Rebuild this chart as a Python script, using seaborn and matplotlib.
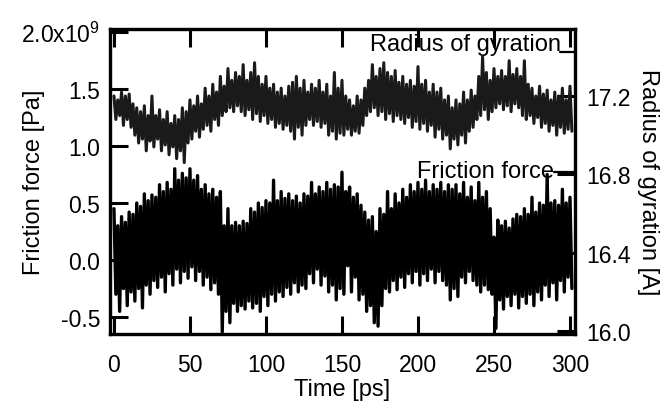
import numpy as np
import pandas as pd
import matplotlib
matplotlib.use("Agg")
import matplotlib.pyplot as plt
import seaborn as sns

# ---- data (envelope peaks/troughs every 2.5 ps) ----
time_ps = np.arange(0, 300.1, 2.5)

friction_hi = [0.45, 0.30, 0.38, 0.33, 0.42, 0.40, 0.50, 0.47, 0.58, 0.52,
               0.57, 0.55, 0.66, 0.60, 0.68, 0.62, 0.80, 0.70, 0.76, 0.72,
               0.80, 0.70, 0.74, 0.62, 0.66, 0.58, 0.62, 0.55, 0.60, 0.30,
               0.45, 0.30, 0.33, 0.30, 0.34, 0.32, 0.45, 0.42, 0.50, 0.46,
               0.52, 0.50, 0.70, 0.52, 0.60, 0.54, 0.58, 0.52, 0.56, 0.50,
               0.58, 0.56, 0.68, 0.58, 0.64, 0.60, 0.68, 0.62, 0.66, 0.64,
               0.77, 0.60, 0.64, 0.55, 0.58, 0.48, 0.42, 0.35, 0.38, 0.25,
               0.45, 0.40, 0.60, 0.45, 0.58, 0.50, 0.62, 0.55, 0.66, 0.60,
               0.68, 0.62, 0.70, 0.60, 0.66, 0.62, 0.68, 0.60, 0.66, 0.62,
               0.66, 0.58, 0.68, 0.55, 0.64, 0.52, 0.68, 0.55, 0.60, 0.45,
               0.20, 0.35, 0.30, 0.34, 0.28, 0.36, 0.40, 0.38, 0.45, 0.40,
               0.55, 0.42, 0.50, 0.48, 0.75, 0.50, 0.52, 0.48, 0.62, 0.50,
               0.55]
friction_lo = [-0.30, -0.45, -0.25, -0.40, -0.28, -0.36, -0.25, -0.42, -0.22, -0.30,
               -0.18, -0.24, -0.15, -0.28, -0.12, -0.22, -0.08, -0.20, -0.10, -0.16,
               -0.06, -0.18, -0.10, -0.22, -0.15, -0.26, -0.20, -0.30, -0.63, -0.45,
               -0.55, -0.38, -0.45, -0.40, -0.43, -0.36, -0.42, -0.38, -0.45, -0.32,
               -0.40, -0.30, -0.36, -0.28, -0.32, -0.24, -0.30, -0.20, -0.28, -0.22,
               -0.25, -0.12, -0.20, -0.08, -0.22, -0.14, -0.28, -0.22, -0.35, -0.25,
               -0.30, -0.05, -0.28, -0.15, -0.35, -0.30, -0.45, -0.40, -0.55, -0.58,
               -0.40, -0.25, -0.28, -0.18, -0.26, -0.15, -0.24, -0.12, -0.20, -0.10,
               -0.22, -0.12, -0.18, -0.08, -0.20, -0.10, -0.18, -0.22, -0.35, -0.25,
               -0.32, -0.15, -0.20, -0.10, -0.18, -0.22, -0.28, -0.22, -0.26, -0.30,
               -0.60, -0.35, -0.43, -0.32, -0.40, -0.30, -0.42, -0.32, -0.38, -0.30,
               -0.40, -0.28, -0.35, -0.22, -0.32, -0.20, -0.35, -0.18, -0.28, -0.15,
               -0.25]

rg_hi = [17.20, 17.18, 17.22, 17.20, 17.21, 17.16, 17.14, 17.12, 17.15, 17.10,
         17.20, 17.10, 17.13, 17.08, 17.12, 17.06, 17.10, 17.08, 17.14, 17.12,
         17.18, 17.15, 17.20, 17.16, 17.24, 17.20, 17.26, 17.22, 17.30, 17.25,
         17.34, 17.28, 17.32, 17.30, 17.36, 17.28, 17.32, 17.37, 17.30, 17.26,
         17.30, 17.24, 17.26, 17.22, 17.24, 17.20, 17.25, 17.27, 17.30, 17.24,
         17.28, 17.22, 17.26, 17.24, 17.28, 17.22, 17.26, 17.20, 17.32, 17.24,
         17.28, 17.20, 17.18, 17.15, 17.20, 17.18, 17.24, 17.28, 17.36, 17.30,
         17.34, 17.37, 17.32, 17.30, 17.33, 17.27, 17.30, 17.26, 17.28, 17.25,
         17.35, 17.26, 17.28, 17.22, 17.26, 17.22, 17.24, 17.18, 17.20, 17.14,
         17.18, 17.16, 17.22, 17.18, 17.23, 17.20, 17.30, 17.40, 17.32, 17.28,
         17.34, 17.30, 17.33, 17.30, 17.38, 17.31, 17.34, 17.30, 17.38, 17.26,
         17.24, 17.20, 17.25, 17.21, 17.23, 17.18, 17.22, 17.20, 17.24, 17.18,
         17.25]
rg_lo = [17.08, 17.10, 17.05, 17.08, 17.04, 17.00, 16.96, 16.98, 16.92, 16.97,
         16.94, 16.98, 16.92, 16.95, 16.90, 16.94, 16.88, 16.92, 16.86, 16.96,
         16.98, 17.02, 16.99, 17.03, 17.05, 17.02, 17.08, 17.05, 17.10, 17.12,
         17.14, 17.12, 17.15, 17.12, 17.10, 17.13, 17.08, 17.11, 17.07, 17.10,
         17.06, 17.08, 17.04, 17.06, 17.03, 17.05, 17.02, 16.98, 17.04, 17.00,
         17.05, 17.08, 17.05, 17.07, 17.04, 17.06, 17.00, 17.02, 16.98, 17.01,
         17.00, 17.03, 17.00, 17.02, 17.01, 17.05, 17.10, 17.12, 17.14, 17.10,
         17.12, 17.08, 17.11, 17.07, 17.10, 17.08, 17.06, 17.09, 17.04, 17.07,
         17.03, 17.06, 17.02, 17.05, 16.99, 17.03, 16.98, 17.00, 16.93, 16.98,
         16.95, 17.00, 16.96, 17.02, 17.04, 17.08, 17.10, 17.13, 17.08, 17.12,
         17.14, 17.16, 17.13, 17.15, 17.12, 17.16, 17.14, 17.10, 17.08, 17.10,
         17.06, 17.09, 17.04, 17.06, 17.02, 17.05, 17.00, 17.04, 17.01, 17.03,
         17.02]

x_ticks = [0, 50, 100, 150, 200, 250, 300]
left_ticks = [-0.5, 0.0, 0.5, 1.0, 1.5, 2.0]
left_labels = ["-0.5", "0.0", "0.5", "1.0", "1.5", "2.0x10$^{9}$"]
right_ticks = [16.0, 16.4, 16.8, 17.2]
right_labels = ["16.0", "16.4", "16.8", "17.2"]


def zigzag(t, hi, lo, half_step):
    rows = []
    for ti, h, l in zip(t, hi, lo):
        rows.append((ti, h))
        rows.append((ti + half_step, l))
    return pd.DataFrame(rows, columns=["t", "v"])


df_f = zigzag(time_ps, friction_hi, friction_lo, 1.25)
df_r = zigzag(time_ps, rg_hi, rg_lo, 1.25)

# ---- styling ----
sns.set_style("ticks")
plt.rcParams["font.family"] = ["Liberation Sans", "DejaVu Sans"]
plt.rcParams["mathtext.fontset"] = "custom"
plt.rcParams["mathtext.rm"] = "Liberation Sans"
plt.rcParams["mathtext.it"] = "Liberation Sans"
for k in ("text.color", "axes.labelcolor", "xtick.color", "ytick.color",
          "axes.edgecolor"):
    plt.rcParams[k] = "black"

fig = plt.figure(figsize=(6.63, 4.02), dpi=100)
ax = fig.add_axes([110 / 663, 1 - 335 / 402, 465 / 663, 305 / 402])
ax2 = ax.twinx()

sns.lineplot(data=df_f, x="t", y="v", ax=ax, color="black", lw=2.4,
             estimator=None, sort=False, legend=False)
sns.lineplot(data=df_r, x="t", y="v", ax=ax2, color="#1a1a1a", lw=2.2,
             estimator=None, sort=False, legend=False)

ax.set_xlim(-2.6, 303.3)
ax.set_ylim(-0.649, 2.026)
ax2.set_ylim(15.985, 17.542)

fs = 16.5
ax.set_xticks(x_ticks)
ax.set_xticklabels([str(v) for v in x_ticks], fontsize=fs)
ax.set_yticks(left_ticks)
ax.set_yticklabels(left_labels, fontsize=fs)
ax2.set_yticks(right_ticks)
ax2.set_yticklabels(right_labels, fontsize=fs)

tick_kw = dict(direction="in", length=13, width=2.2, color="black")
ax.tick_params(axis="x", top=True, bottom=True, pad=14, **tick_kw)
ax.tick_params(axis="y", left=True, right=False, pad=7, **tick_kw)
ax2.tick_params(axis="y", right=True, left=False, pad=8, **tick_kw)

for a in (ax, ax2):
    for s in a.spines.values():
        s.set_linewidth(2.3)
        s.set_color("black")

lfs = 17
ax.set_xlabel("Time [ps]", fontsize=lfs)
ax.set_ylabel("Friction force [Pa]", fontsize=lfs)
ax2.set_ylabel("Radius of gyration [A]", fontsize=lfs, rotation=-90,
               va="center")
for lab in (ax.xaxis.label, ax.yaxis.label, ax2.yaxis.label):
    lab.set_fontsize(lfs)
ax.xaxis.set_label_coords(0.5, -(390 - 335) / 305)
ax.yaxis.set_label_coords((34 - 110) / 465, 0.5)
ax2.yaxis.set_label_coords((648 - 110) / 465, 0.5)
ax.xaxis.label.set_va("center")
ax.yaxis.label.set_va("center")

# in-plot series labels with their short line samples
ax.text(0.970, 0.952, "Radius of gyration", transform=ax.transAxes,
        ha="right", va="center", fontsize=lfs)
ax.plot([0.968, 1.0], [0.925, 0.925], transform=ax.transAxes,
        color="black", lw=1.6, clip_on=False)
ax.text(0.955, 0.535, "Friction force", transform=ax.transAxes,
        ha="right", va="center", fontsize=lfs)
ax.plot([0.955, 1.0], [0.53, 0.53], transform=ax.transAxes,
        color="black", lw=1.6, clip_on=False)

fig.savefig("out.png", dpi=100)
